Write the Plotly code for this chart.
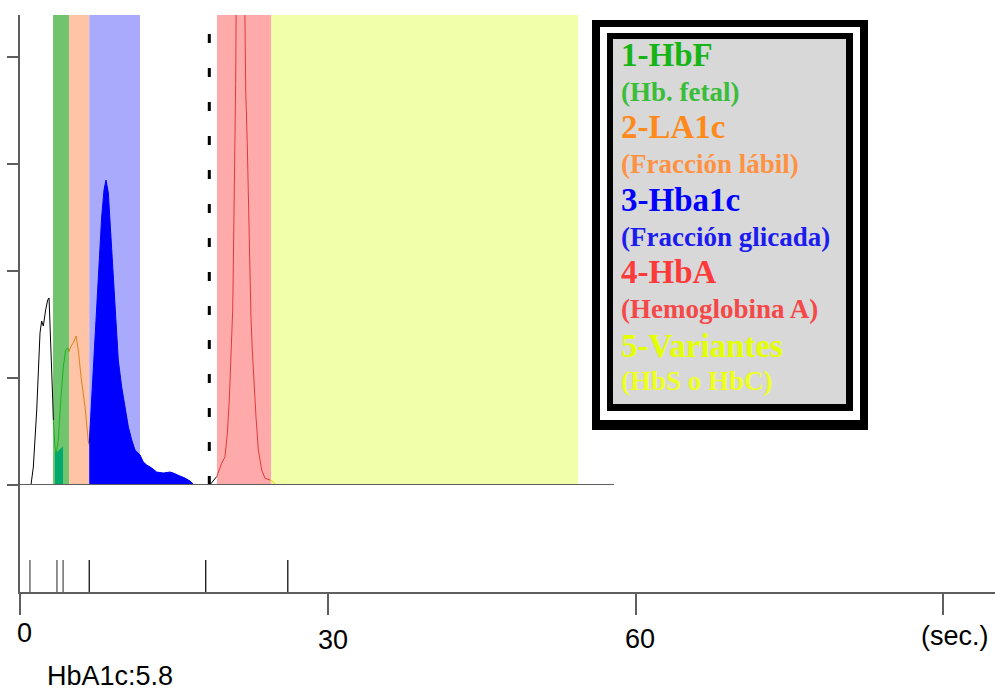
import plotly.graph_objects as go

# ---------------- data ----------------
# chromatogram segments (time in s, signal in arbitrary units)
pre_t = [1.07, 1.30, 1.63, 1.87, 1.95, 2.11, 2.27, 2.50, 2.70, 2.83, 2.92, 3.09, 3.19, 3.25]
pre_v = [0.0, 1.68, 7.01, 14.0, 14.21, 15.33, 14.86, 16.36, 17.29, 17.48, 15.42, 11.03, 7.94, 6.07]

hbf_t = [3.25, 3.41, 3.54, 3.73, 3.97, 4.22, 4.45, 4.65, 4.78]
hbf_v = [6.07, 3.55, 2.99, 4.21, 7.94, 11.03, 12.62, 12.80, 12.46]

hbf_fill_t = [3.41, 3.54, 3.73, 3.97, 4.19]
hbf_fill_v = [3.3, 3.0, 3.2, 3.4, 3.6]

la1c_t = [4.78, 4.80, 5.04, 5.19, 5.46, 5.68, 5.95, 6.34, 6.66, 6.75]
la1c_v = [12.46, 12.62, 13.08, 13.27, 13.93, 12.62, 10.09, 7.29, 4.02, 3.74]

a1c_t = [6.75, 6.99, 7.24, 7.48, 7.70, 7.96, 8.19, 8.38, 8.61, 8.84, 9.09, 9.36, 9.58,
         9.91, 10.23, 10.56, 10.89, 11.21, 11.70, 12.02, 12.35, 12.84, 13.32, 13.97,
         14.62, 14.94, 15.59, 16.08, 16.57, 16.89]
a1c_v = [3.93, 7.94, 12.62, 17.29, 21.03, 25.05, 27.57, 28.50, 27.29, 23.55, 18.88, 14.77, 11.68,
         9.16, 7.29, 5.42, 4.21, 3.27, 2.80, 2.15, 1.87, 1.59, 1.21, 1.12,
         1.21, 1.12, 0.84, 0.65, 0.37, 0.09]

gap_t = [18.50, 19.17]
gap_v = [0.0, 0.78]

hba_t = [19.17, 19.66, 19.98, 20.21, 20.40, 20.54, 20.63, 20.73, 20.79, 20.86, 20.96, 21.02,
         21.08, 21.49, 21.90, 22.00, 22.15, 22.25, 22.35, 22.42, 22.51, 22.64, 22.81,
         23.00, 23.23, 23.56, 23.88, 24.37]
hba_v = [0.78, 2.03, 2.64, 4.83, 7.94, 11.06, 14.21, 16.36, 20.40, 25.07, 32.87, 37.54,
         46.0, 75.0, 46.0, 36.92, 31.93, 26.64, 23.52, 19.47, 15.73, 12.62, 9.50,
         6.38, 3.27, 1.40, 0.63, 0.47]

var_t = [24.37, 24.69, 24.85]
var_v = [0.47, 0.31, 0.0]

# retention windows (s)
band_start = [3.22, 4.78, 6.75, 19.2, 24.5]
band_end = [4.78, 6.75, 11.7, 24.5, 54.4]
band_colors = ["#70C46E", "#FFC4A6", "#AAAAFC", "#FFAAAA", "#F1FFA8"]

injection_t = 18.45

# detected peak markers (s)
peak_minor_t = [0.97, 3.6, 4.2]
peak_major_t = [6.75, 18.1, 26.1]
marker_height = 0.3

x_tickvals = [0, 30, 60, 90]
x_ticktext = ["0", "30", "60", "(sec.)"]
y_tickvals = [0, 10, 20, 30, 40]

legend_titles = ["1-HbF", "2-LA1c", "3-Hba1c", "4-HbA", "5-Variantes"]
legend_subs = ["(Hb. fetal)", "(Fracción lábil)", "(Fracción glicada)", "(Hemoglobina A)", "(HbS o HbC)"]
legend_title_colors = ["#16B416", "#FF8A1C", "#0000FF", "#FF3A3A", "#E4FF00"]
legend_sub_colors = ["#3ABD3A", "#FF9242", "#1C1CF0", "#F54848", "#EEFF22"]

result_text = "HbA1c:5.8"

# ---------------- layout helpers ----------------
W, H = 995, 692
def PX(p):
    return p / W
def PY(p):
    return 1 - p / H

X0_PX = 20
SEC_PX = 10.26
x_range = [0, (W - X0_PX) / SEC_PX]
y_range = [0, 43.93]
axis_col = "#5E5E5E"

fig = go.Figure()

# curves
fig.add_trace(go.Scatter(x=pre_t, y=pre_v, mode="lines", line=dict(color="black", width=1),
                         xaxis="x", yaxis="y", showlegend=False))
fig.add_trace(go.Scatter(x=hbf_fill_t, y=hbf_fill_v, mode="lines", fill="tozeroy",
                         fillcolor="#00AA6E", line=dict(color="#00AA6E", width=0),
                         xaxis="x", yaxis="y", showlegend=False))
fig.add_trace(go.Scatter(x=hbf_t, y=hbf_v, mode="lines", line=dict(color="#1FB01F", width=1),
                         xaxis="x", yaxis="y", showlegend=False))
fig.add_trace(go.Scatter(x=la1c_t, y=la1c_v, mode="lines", line=dict(color="#E08020", width=1),
                         xaxis="x", yaxis="y", showlegend=False))
fig.add_trace(go.Scatter(x=a1c_t, y=a1c_v, mode="lines", fill="tozeroy", fillcolor="#0000FF",
                         line=dict(color="#0000FF", width=1),
                         xaxis="x", yaxis="y", showlegend=False))
fig.add_trace(go.Scatter(x=gap_t, y=gap_v, mode="lines", line=dict(color="black", width=1),
                         xaxis="x", yaxis="y", showlegend=False))
fig.add_trace(go.Scatter(x=hba_t, y=hba_v, mode="lines", line=dict(color="#E23A3A", width=1),
                         xaxis="x", yaxis="y", showlegend=False))
fig.add_trace(go.Scatter(x=var_t, y=var_v, mode="lines", line=dict(color="#D8D800", width=1),
                         xaxis="x", yaxis="y", showlegend=False))

# peak markers in lower panel
def seg(ts):
    xs, ys = [], []
    for t in ts:
        xs += [t, t, None]
        ys += [0, marker_height, None]
    return xs, ys

mx, my = seg(peak_minor_t)
fig.add_trace(go.Scatter(x=mx, y=my, mode="lines", line=dict(color="#555555", width=1.3),
                         xaxis="x2", yaxis="y2", showlegend=False))
mx, my = seg(peak_major_t)
fig.add_trace(go.Scatter(x=mx, y=my, mode="lines", line=dict(color="#111111", width=1.3),
                         xaxis="x2", yaxis="y2", showlegend=False))

shapes = []
for s, e, c in zip(band_start, band_end, band_colors):
    shapes.append(dict(type="rect", xref="x", yref="y domain", x0=s, x1=e, y0=0, y1=1,
                       fillcolor=c, line=dict(width=0), layer="below"))
# injection marker
shapes.append(dict(type="line", xref="x", yref="y domain", x0=injection_t, x1=injection_t,
                   y0=0, y1=1, line=dict(color="black", width=3, dash="9px,25px")))
# upper baseline
shapes.append(dict(type="line", xref="paper", yref="y", x0=PX(9), x1=PX(614), y0=0, y1=0,
                   line=dict(color=axis_col, width=2)))

# legend box frames
frames = [((592, 20, 868, 430), "black"), ((600, 27, 860, 420), "white"),
          ((607, 33, 853, 411), "black"), ((613, 39, 846, 404), "#D8D8D8")]
for (x0, y0, x1, y1), c in frames:
    shapes.append(dict(type="rect", xref="paper", yref="paper", x0=PX(x0), x1=PX(x1),
                       y0=PY(y1), y1=PY(y0), fillcolor=c, line=dict(width=0), layer="above"))

annotations = []
title_y = [55.5, 127, 200, 272, 345.5]
sub_y = [92, 164, 237, 309, 381]
for i in range(len(legend_titles)):
    annotations.append(dict(text=legend_titles[i], xref="paper", yref="paper",
                            x=PX(619), y=PY(title_y[i]), xanchor="left", yanchor="middle",
                            showarrow=False,
                            font=dict(family="Liberation Serif", size=33, weight="bold",
                                      color=legend_title_colors[i])))
    annotations.append(dict(text=legend_subs[i], xref="paper", yref="paper",
                            x=PX(619), y=PY(sub_y[i]), xanchor="left", yanchor="middle",
                            showarrow=False,
                            font=dict(family="Liberation Serif", size=27, weight="bold",
                                      color=legend_sub_colors[i])))

label_shift = [4, 5, 4, 12]
label_y = [633, 640, 639, 636]
for v, t, sh, ly in zip(x_tickvals, x_ticktext, label_shift, label_y):
    annotations.append(dict(text=t, xref="x2", yref="paper", x=v, y=PY(ly), xshift=sh,
                            xanchor="center", yanchor="middle", showarrow=False,
                            font=dict(family="Liberation Sans", size=27, color="black")))

annotations.append(dict(text=result_text, xref="paper", yref="paper", x=PX(45), y=PY(676),
                        xanchor="left", yanchor="middle", showarrow=False,
                        font=dict(family="Liberation Sans", size=27, color="black")))

fig.update_layout(
    width=W, height=H,
    margin=dict(l=0, r=0, t=0, b=0),
    paper_bgcolor="white", plot_bgcolor="white",
    showlegend=False,
    xaxis=dict(domain=[PX(X0_PX), 1], range=x_range, anchor="y", visible=False,
               showgrid=False, zeroline=False),
    yaxis=dict(domain=[PY(485), PY(15)], range=y_range, anchor="x",
               showline=True, linecolor=axis_col, linewidth=2,
               ticks="outside", ticklen=11, tickwidth=1.5, tickcolor=axis_col,
               tickvals=y_tickvals, showticklabels=False, showgrid=False, zeroline=False),
    xaxis2=dict(domain=[PX(X0_PX), 1], range=x_range, anchor="y2",
                showline=True, linecolor=axis_col, linewidth=2,
                ticks="outside", ticklen=21, tickwidth=1.5, tickcolor=axis_col,
                tickvals=x_tickvals, showticklabels=False, showgrid=False, zeroline=False),
    yaxis2=dict(domain=[PY(592), PY(485)], range=[0, 1], anchor="x2",
                showline=True, linecolor=axis_col, linewidth=2,
                ticks="", showticklabels=False, showgrid=False, zeroline=False),
    shapes=shapes,
    annotations=annotations,
)

fig.write_html("out.html")
